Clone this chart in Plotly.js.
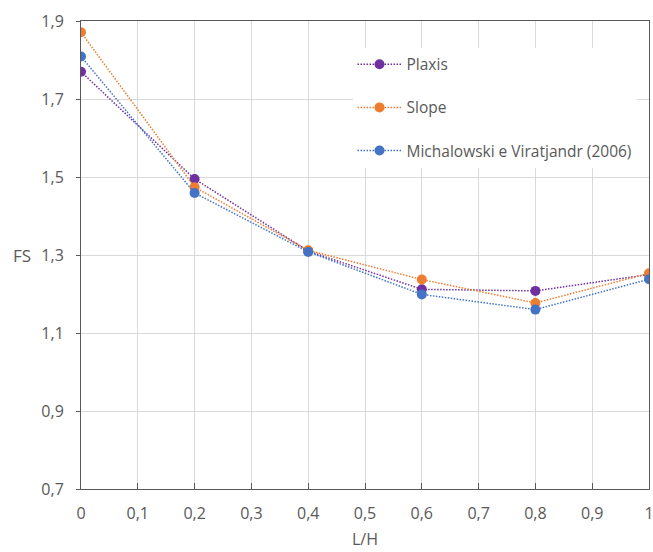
<!DOCTYPE html>
<html>
<head>
<meta charset="utf-8">
<script src="https://cdn.plot.ly/plotly-3.0.1.min.js"></script>
<style>html,body{margin:0;padding:0;background:#fff;}#chart{width:653px;height:552px;}</style>
</head>
<body>
<div id="chart"></div>
<script>
const xValues = [0, 0.2, 0.4, 0.6, 0.8, 1];
const plaxis = [1.770, 1.495, 1.310, 1.212, 1.208, 1.250];
const slope = [1.871, 1.474, 1.312, 1.237, 1.177, 1.253];
const michalowski = [1.809, 1.459, 1.308, 1.199, 1.160, 1.238];
const seriesNames = ['Plaxis', 'Slope', 'Michalowski e Viratjandr (2006)'];
const seriesColors = ['#7030A0', '#ED7D31', '#4472C4'];

const series = [plaxis, slope, michalowski];
const traces = series.map((ys, i) => ({
  x: xValues, y: ys, name: seriesNames[i], type: 'scatter', mode: 'lines+markers',
  legendgroup: 'g' + i,
  line: {color: seriesColors[i], width: 1.5, dash: '1.5px,1.5px'},
  marker: {color: seriesColors[i], size: 10}
}));

const fam = 'Open Sans, DejaVu Sans, sans-serif';
const grey = '#595959';
const layout = {
  width: 653, height: 552,
  margin: {l: 81, r: 4, t: 21, b: 63},
  separators: ',.',
  font: {family: fam, size: 16, color: grey},
  paper_bgcolor: '#fff', plot_bgcolor: '#fff',
  showlegend: true,
  legend: {x: 0.478, y: 0.943, xanchor: 'left', yanchor: 'top', bgcolor: '#fff',
           itemwidth: 44,
           font: {family: fam, size: 15.5, color: grey}, tracegroupgap: 20},
  xaxis: {range: [0, 1], dtick: 0.1, tick0: 0, showgrid: true, gridcolor: '#d9d9d9',
          showline: true, linecolor: grey, linewidth: 1, mirror: true,
          ticks: 'inside', ticklen: 6, tickcolor: grey, zeroline: false,
          ticklabelstandoff: 10, ticklabeloverflow: 'allow',
          tickfont: {family: fam, size: 16, color: grey}},
  yaxis: {range: [0.7, 1.9], dtick: 0.2, tick0: 0.7, showgrid: true, gridcolor: '#d9d9d9',
          showline: true, linecolor: grey, linewidth: 1, mirror: true,
          ticks: 'outside', ticklen: 4, tickcolor: grey, zeroline: false,
          ticklabelstandoff: 9,
          tickfont: {family: fam, size: 16, color: grey}},
  annotations: [
    {text: 'FS', xref: 'paper', yref: 'paper', x: -0.104, y: 0.5, xanchor: 'center', yanchor: 'middle',
     showarrow: false, font: {family: fam, size: 17, color: grey}},
    {text: 'L/H', xref: 'paper', yref: 'paper', x: 0.5, y: -0.106, xanchor: 'center', yanchor: 'middle',
     showarrow: false, font: {family: fam, size: 16, color: grey}}
  ]
};
Plotly.newPlot('chart', traces, layout, {displayModeBar: false, staticPlot: true});
</script>
</body>
</html>
